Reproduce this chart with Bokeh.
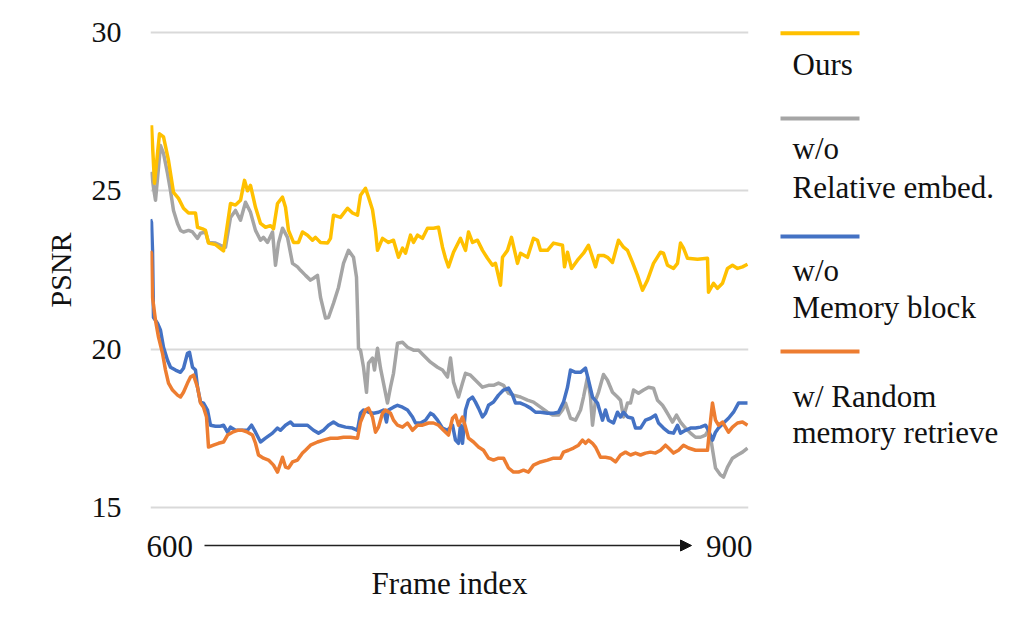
from bokeh.plotting import figure
from bokeh.layouts import column, row
from bokeh.models import Label, Arrow, NormalHead, FixedTicker, Range1d
from bokeh.embed import file_html
from bokeh.resources import INLINE

# ---------------- data ----------------
ours_f = [600.5, 602, 604.5, 606.5, 609, 611.5, 614, 616.5, 619, 622.5, 623.5, 626, 627.5, 629, 632.5,
          636.5, 640, 642.5, 645, 647, 648.5, 650, 652.5, 655, 657.5, 660, 661.5, 663.5, 666, 667.5,
          669, 671.5, 674, 676, 678.5, 681, 682.5, 685, 688.5, 690, 691.5, 695, 698.5, 701, 703.5,
          705, 707.5, 709, 711, 712.5, 713.5, 716, 719, 721.5, 724, 726, 727.5, 730, 731.5, 733.5,
          736, 738.5, 741.5, 744, 746, 747.5, 749, 751.5, 755, 757.5, 759, 761, 763.5, 766, 768.5,
          771, 772.5, 775, 776, 778.5, 780.5, 783.5, 785, 788.5, 791.5, 793.5, 795, 798.5, 801.5,
          806, 807, 808.5, 810.5, 813.5, 816.5, 819, 821, 822.5, 824, 826.5, 828.5, 831, 834, 836.5,
          838.5, 841, 843.5, 846, 848.5, 851.5, 855, 856.5, 858.5, 861.5, 863.5, 865, 866.5, 868.5,
          873.5, 878.5, 879, 881.5, 883.5, 886, 888.5, 891, 893.5, 896, 898.5]
ours_v = [27.07, 25.24, 26.8, 26.7, 25.96, 24.95, 24.76, 24.45, 24.3, 24.3, 23.85, 23.8, 23.75, 23.35, 23.3,
          23.1, 24.6, 24.55, 24.7, 25.33, 25.0, 25.17, 24.48, 23.97, 23.85, 23.9, 23.8, 24.6, 24.8, 24.48,
          23.75, 23.37, 23.37, 23.7, 23.6, 23.44, 23.53, 23.37, 23.35, 23.5, 24.23, 24.16, 24.45, 24.3, 24.23,
          24.86, 25.08, 24.8, 24.4, 23.75, 23.12, 23.5, 23.37, 23.44, 22.9, 23.19, 23.03, 23.6, 23.37, 23.6,
          23.5, 23.82, 23.82, 23.85, 23.22, 22.87, 22.6, 23.06, 23.5, 23.12, 23.7, 23.37, 23.44, 23.12, 22.87,
          22.65, 22.71, 22.02, 22.9, 23.12, 23.53, 22.71, 23.03, 22.9, 23.5, 23.44, 23.12, 23.12, 23.35,
          23.28, 22.6, 23.06, 22.55, 22.81, 23.03, 23.28, 22.9, 22.6, 22.96, 22.96, 22.9, 22.74, 23.44, 23.22,
          23.12, 22.74, 22.33, 21.86, 22.18, 22.71, 23.06, 23.03, 22.65, 22.55, 22.71, 23.35, 23.19, 22.87,
          22.84, 22.87, 21.8, 22.08, 21.92, 22.08, 22.55, 22.65, 22.55, 22.6, 22.68]

rel_f = [600.5, 601.5, 602.5, 605, 606.5, 608.5, 610, 611.5, 613.5, 615, 616.5, 619, 621, 623.5, 625,
         627.5, 629, 632.5, 635, 637.5, 640, 642.5, 645, 647.5, 650, 652.5, 655, 656.5, 658.5, 661,
         662.5, 664, 666, 668.5, 671, 673.5, 675, 677.5, 680, 681.5, 683.5, 685, 687.5, 689, 691.5,
         694, 696.5, 699, 701.5, 703, 703.5, 704, 705, 706.5, 708, 709, 711, 712, 713.5, 715, 716.5,
         718.5, 720, 721.5, 723.5, 726, 728.5, 731.5, 734, 736.5, 740, 743.5, 746, 748.5, 750, 751.5,
         754, 756, 757.5, 760, 762.5, 766, 769, 771.5, 774, 776.5, 779, 781.5, 785, 788.5, 791.5, 795,
         798.5, 801, 804, 806, 807.5, 810, 812.5, 815, 816.5, 818.5, 820, 821, 822.5, 824, 826.5, 828.5,
         831, 833.5, 835, 836.5, 838.5, 840, 841.5, 844, 846.5, 849, 851.5, 853.5, 856, 857.5, 859, 861,
         863, 865, 867.5, 870, 872.5, 875, 877.5, 879, 880.5, 882.5, 885, 886.5, 888.5, 891, 893.5, 896, 898.5]
rel_v = [25.6, 25.1, 24.7, 26.43, 26.18, 25.55, 25.0, 24.38, 23.97, 23.75, 23.7, 23.75, 23.7, 23.5, 23.66,
         23.7, 23.37, 23.35, 23.28, 23.22, 24.16, 24.38, 24.07, 24.64, 24.32, 23.75, 23.44, 23.53, 23.37, 23.7,
         22.65, 23.35, 23.82, 23.53, 22.71, 22.6, 22.49, 22.33, 22.18, 22.24, 22.33, 21.64, 20.98, 21.0, 21.45,
         21.95, 22.71, 23.12, 22.9, 22.27, 21.23, 20.03, 19.97, 19.43, 18.64, 19.56, 19.72, 19.34, 20.03, 19.4, 18.93,
         18.3, 18.8, 19.24, 20.19, 20.22, 20.06, 19.97, 19.97, 19.81, 19.59, 19.43, 19.34, 19.12, 19.72, 18.96,
         18.49, 18.93, 19.24, 19.18, 19.02, 18.8, 18.86, 18.86, 18.93, 18.86, 18.61, 18.55, 18.49, 18.39, 18.33, 18.17,
         18.01, 17.92, 17.92, 18.08, 18.3, 17.82, 17.76, 18.08, 18.49, 19.12, 18.49, 17.6, 18.39, 18.64, 19.2, 19.02,
         18.64, 18.49, 18.39, 17.86, 18.3, 18.3, 18.71, 18.61, 18.71, 18.8, 18.77, 18.39, 18.23, 18.08, 17.92, 17.7,
         17.92, 17.7, 17.51, 17.35, 17.22, 17.22, 17.29, 17.44, 17.03, 16.25, 16.03, 15.96, 16.28, 16.56, 16.66, 16.75, 16.88]

mem_f = [600, 600.5, 601, 601.5, 603.5, 605, 606.5, 608.5, 610, 612.5, 615, 616.5, 618.5, 619.5, 621,
         622.5, 623.5, 625, 626.5, 628.5, 630, 632.5, 635, 636.5, 638.5, 640, 642.5, 646, 648.5, 650.5,
         652.5, 655, 657.5, 661, 663.5, 665, 667.5, 670, 671.5, 674, 676.5, 678.5, 681.5, 684, 686.5,
         689, 691.5, 694, 697.5, 701, 703.5, 705, 706.5, 709, 711.5, 714, 716.5, 718, 719, 721.5, 723.5,
         726, 728.5, 731, 732.5, 735, 737.5, 740, 741.5, 743.5, 746, 748.5, 751, 752.5, 754, 755, 756,
         757.5, 759, 761, 762.5, 764, 766, 767.5, 769, 771.5, 774, 776.5, 779, 781, 782.5, 785, 787.5,
         790, 792.5, 795, 798.5, 801.5, 804, 806.5, 808.5, 810, 812.5, 815, 817.5, 819, 821, 823.5, 826,
         827.5, 829, 831.5, 833.5, 835, 836.5, 838.5, 841, 842.5, 845, 847.5, 850, 852.5, 854, 856.5, 859,
         861.5, 863.5, 865, 867.5, 870, 872.5, 875, 877.5, 879, 881, 882.5, 884, 886.5, 889, 891.5, 894,
         896.5, 898.5]
mem_v = [24.1, 24.0, 23.12, 21.0, 20.82, 20.6, 20.06, 19.65, 19.43, 19.34, 19.27, 19.4, 19.87, 19.9, 19.43,
         19.34, 18.8, 18.33, 18.3, 18.08, 17.6, 17.57, 17.57, 17.6, 17.38, 17.54, 17.44, 17.44, 17.44, 17.6,
         17.38, 17.07, 17.19, 17.35, 17.51, 17.44, 17.6, 17.7, 17.6, 17.6, 17.6, 17.6, 17.44, 17.35, 17.44,
         17.6, 17.7, 17.6, 17.54, 17.51, 17.44, 17.98, 18.08, 18.01, 17.98, 18.01, 18.08, 17.7, 18.08, 18.17, 18.23,
         18.17, 18.08, 17.86, 17.67, 17.67, 17.76, 17.98, 17.92, 17.76, 17.51, 17.44, 17.6, 17.13, 17.03, 17.6, 17.03,
         18.08, 18.39, 18.49, 18.33, 18.14, 17.86, 17.98, 18.23, 18.33, 18.55, 18.71, 18.77, 18.55, 18.3, 18.3, 18.23,
         18.14, 18.01, 18.01, 17.98, 17.98, 18.01, 18.33, 18.8, 19.34, 19.27, 19.27, 19.4, 19.02, 18.49, 18.3, 17.76,
         18.08, 17.76, 17.67, 18.01, 17.86, 18.01, 17.86, 17.82, 17.51, 17.51, 17.76, 17.82, 17.92, 17.67, 17.51, 17.38,
         17.35, 17.6, 17.35, 17.44, 17.51, 17.51, 17.54, 17.6, 17.44, 17.13, 17.38, 17.51, 17.67, 17.82, 18.01, 18.3,
         18.3, 18.3]

rnd_f = [600, 600.5, 601, 602.5, 604, 606, 607.5, 609, 611, 613.5, 615, 616.5, 618.5, 620, 621.5, 623.5,
         625, 626.5, 628, 629, 631.5, 634, 636.5, 638.5, 641, 643.5, 646, 648.5, 651, 652.5, 654, 656.5,
         659, 661.5, 663.5, 665, 666, 667.5, 669, 671, 673.5, 676, 677.5, 680, 683.5, 686.5, 690, 693.5,
         696.5, 700, 703.5, 705, 707.5, 709, 711, 712.5, 714, 716, 717.5, 720, 721.5, 723.5, 726, 728.5,
         731, 733.5, 736, 739, 741.5, 744, 746.5, 749, 751, 752.5, 754, 756, 757.5, 759, 761.5, 764, 766.5,
         769, 771.5, 774, 776.5, 779, 781.5, 784, 786.5, 789, 791.5, 795, 798.5, 801.5, 805, 806.5, 809,
         811.5, 814, 816, 817.5, 819, 821, 822.5, 825, 827.5, 830, 832.5, 835, 837.5, 840, 842.5, 845,
         847.5, 850, 852.5, 855, 857.5, 859, 861.5, 864, 866.5, 869, 872.5, 876, 878.5, 879.5, 881, 882.5,
         884, 886, 887.5, 889, 891, 893.5, 896, 898.5]
rnd_v = [23.1, 23.03, 21.64, 20.91, 20.38, 19.87, 19.34, 18.93, 18.71, 18.55, 18.49, 18.64, 18.93, 19.12, 19.18, 18.8,
         18.3, 18.17, 17.86, 16.91, 16.97, 17.03, 17.07, 17.29, 17.38, 17.44, 17.44, 17.38, 17.29, 17.03, 16.66, 16.56,
         16.5, 16.34, 16.12, 16.4, 16.59, 16.28, 16.25, 16.44, 16.5, 16.72, 16.81, 16.97, 17.07, 17.13, 17.19, 17.19,
         17.22, 17.22, 17.19, 17.7, 18.08, 18.14, 17.86, 17.38, 17.54, 17.98, 18.08, 17.98, 17.76, 17.6, 17.54, 17.67,
         17.44, 17.6, 17.6, 17.67, 17.67, 17.6, 17.44, 17.29, 17.82, 17.92, 17.6, 17.86, 17.54, 17.19, 17.07, 16.91, 16.81,
         16.56, 16.5, 16.56, 16.56, 16.25, 16.12, 16.12, 16.18, 16.12, 16.34, 16.44, 16.5, 16.56, 16.56, 16.75, 16.81,
         16.88, 16.97, 17.13, 17.03, 17.13, 17.03, 16.91, 16.59, 16.59, 16.56, 16.44, 16.66, 16.75, 16.66, 16.72, 16.66,
         16.72, 16.75, 16.72, 16.81, 16.97, 16.88, 16.72, 16.81, 16.97, 16.88, 16.81, 16.81, 16.81, 17.44, 18.3, 17.76,
         17.6, 17.7, 17.54, 17.38, 17.54, 17.67, 17.7, 17.6]

y_ticks = [15, 20, 25, 30]
x_start_label, x_end_label = "600", "900"
x_title = "Frame index"
y_title = "PSNR"
series_names = ["Ours", "w/o\nRelative embed.", "w/o\nMemory block", "w/ Random\nmemory retrieve"]
colors = ["#FFC000", "#A5A5A5", "#4472C4", "#ED7D31"]

FONT = "Liberation Serif"
TXT = "#111111"
MAIN_H = 527

# ---------------- main chart ----------------
p = figure(frame_width=598, frame_height=491,
           min_border_left=150, min_border_right=12, min_border_top=24, min_border_bottom=MAIN_H - 24 - 491,
           x_range=Range1d(600, 899), y_range=Range1d(14.75, 30.25),
           output_backend="svg", toolbar_location=None, background_fill_color="white")
p.outline_line_color = None
p.xgrid.grid_line_color = None
p.ygrid.grid_line_color = "#D9D9D9"
p.ygrid.grid_line_width = 2
p.xaxis.visible = False

p.yaxis.ticker = FixedTicker(ticks=y_ticks)
p.yaxis.axis_line_color = None
p.yaxis.major_tick_line_color = None
p.yaxis.minor_tick_line_color = None
p.yaxis.major_tick_out = 0
p.yaxis.minor_tick_out = 0
p.yaxis.major_label_standoff = 29
p.yaxis.major_label_text_font = FONT
p.yaxis.major_label_text_font_size = "30px"
p.yaxis.major_label_text_color = TXT
p.yaxis.axis_label = y_title
p.yaxis.axis_label_text_font = FONT
p.yaxis.axis_label_text_font_size = "30px"
p.yaxis.axis_label_text_font_style = "normal"
p.yaxis.axis_label_text_color = TXT
p.yaxis.axis_label_standoff = 12

data = [(ours_f, ours_v), (rel_f, rel_v), (mem_f, mem_v), (rnd_f, rnd_v)]
for idx in [1, 2, 3, 0]:
    fx, fv = data[idx]
    p.line(fx, fv, line_color=colors[idx], line_width=3.5, line_join="round")

# ---------------- legend panel (page-pixel coordinates, frame aligned with the chart) ----------------
lg = figure(width=262, height=MAIN_H, x_range=Range1d(760, 1022), y_range=Range1d(515, 24),
            min_border=0, output_backend="svg", toolbar_location=None)
lg.axis.visible = False
lg.grid.visible = False
lg.outline_line_color = None
leg_line_y = [32.7, 118, 236, 351]
leg_text_y = [[63.5], [147.5, 186.5], [269.5, 306.5], [395.5, 432]]
for i, name in enumerate(series_names):
    lg.line([780, 859], [leg_line_y[i], leg_line_y[i]], line_color=colors[i], line_width=4)
    for j, part in enumerate(name.split("\n")):
        lg.add_layout(Label(x=792, y=leg_text_y[i][j], text=part, text_align="left",
                            text_baseline="middle", text_font=FONT, text_font_size="31px",
                            text_color=TXT))

# ---------------- x axis panel (page-pixel coordinates) ----------------
bx = figure(width=1022, height=615 - MAIN_H, x_range=Range1d(0, 1022), y_range=Range1d(615, MAIN_H),
            min_border=0, output_backend="svg", toolbar_location=None)
bx.axis.visible = False
bx.grid.visible = False
bx.outline_line_color = None
bx.add_layout(Label(x=146, y=546, text=x_start_label, text_align="left", text_baseline="middle",
                    text_font=FONT, text_font_size="31px", text_color=TXT))
bx.add_layout(Label(x=752, y=546, text=x_end_label, text_align="right", text_baseline="middle",
                    text_font=FONT, text_font_size="31px", text_color=TXT))
bx.add_layout(Arrow(x_start=204, y_start=545, x_end=691, y_end=545,
                    line_color="#222222", line_width=1.5,
                    end=NormalHead(size=11, fill_color="#111111", line_color="#111111")))
bx.add_layout(Label(x=449, y=583, text=x_title, text_align="center", text_baseline="middle",
                    text_font=FONT, text_font_size="31px", text_color=TXT))

layout = column(row(p, lg, spacing=0), bx, spacing=0)
open("out.html", "w").write(file_html(layout, INLINE))
